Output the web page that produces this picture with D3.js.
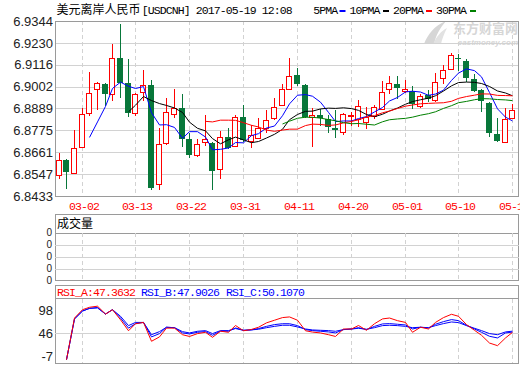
<!DOCTYPE html>
<html>
<head>
<meta charset="utf-8">
<script src="https://cdn.jsdelivr.net/npm/d3@7"></script>
<style>
body { margin: 0; background: #fff; }
svg { display: block; }
.mono { font-family: "Liberation Mono", "DejaVu Sans Mono", monospace; font-size: 11.5px; letter-spacing: -0.9px; }
.ylab { font-family: "Liberation Sans", Arial, sans-serif; font-size: 13px; fill: #222; }
</style>
</head>
<body>
<div id="chart"></div>
<script>
// trading days shown on the chart
var dates = ["02-27","02-28","03-01","03-02","03-03","03-06","03-07","03-08","03-09","03-10",
  "03-13","03-14","03-15","03-16","03-17","03-20","03-21","03-22","03-23","03-24",
  "03-27","03-28","03-29","03-30","03-31","04-03","04-04","04-05","04-06","04-07",
  "04-10","04-11","04-12","04-13","04-14","04-17","04-18","04-19","04-20","04-21",
  "04-24","04-25","04-26","04-27","04-28","05-01","05-02","05-03","05-04","05-05",
  "05-08","05-09","05-10","05-11","05-12","05-15","05-16","05-17","05-18","05-19"];

var opens = [6.8544,6.8620,6.8551,6.8688,6.8865,6.8990,6.9018,6.8966,6.9153,6.9023,
  6.8863,6.8976,6.9011,6.8497,6.8709,6.8860,6.8893,6.8731,6.8646,6.8714,
  6.8710,6.8572,6.8742,6.8693,6.8846,6.8719,6.8736,6.8789,6.8837,6.8907,
  6.8992,6.9061,6.9011,6.8844,6.8856,6.8834,6.8789,6.8766,6.8848,6.8832,
  6.8818,6.8849,6.8887,6.8992,6.9018,6.8979,6.8979,6.8901,6.8959,6.8933,
  6.9045,6.9096,6.9150,6.9136,6.9042,6.8983,6.8919,6.8754,6.8714,6.8840];
var closes = [6.8620,6.8558,6.8683,6.8860,6.8969,6.9023,6.8962,6.9151,6.9023,6.8863,
  6.8964,6.9011,6.8473,6.8703,6.8870,6.8893,6.8728,6.8646,6.8703,6.8730,
  6.8561,6.8740,6.8681,6.8844,6.8723,6.8750,6.8789,6.8828,6.8896,6.8992,
  6.9058,6.9014,6.8844,6.8854,6.8837,6.8792,6.8775,6.8860,6.8853,6.8901,
  6.8844,6.8896,6.8974,6.9023,6.8993,6.8988,6.8914,6.8953,6.8938,6.9026,
  6.9089,6.9167,6.9144,6.9049,6.8979,6.8927,6.8759,6.8719,6.8834,6.8879];
var highs = [6.8658,6.8624,6.8778,6.8893,6.9080,6.9028,6.9021,6.9223,6.9327,6.9148,
  6.8971,6.9089,6.9035,6.8789,6.8945,6.8988,6.8966,6.8762,6.8728,6.8854,
  6.8714,6.8771,6.8789,6.8853,6.8905,6.8802,6.8837,6.8881,6.8941,6.9018,
  6.9153,6.9101,6.9014,6.8889,6.8884,6.8853,6.8879,6.8863,6.8870,6.8931,
  6.8896,6.8907,6.9032,6.9056,6.9056,6.9035,6.9004,6.8966,6.8983,6.9075,
  6.9113,6.9179,6.9174,6.9148,6.9066,6.8990,6.8922,6.8837,6.8893,6.8910];
var lows = [6.8519,6.8467,6.8545,6.8684,6.8848,6.8879,6.8901,6.8927,6.8941,6.8844,
  6.8848,6.8927,6.8462,6.8462,6.8697,6.8837,6.8688,6.8629,6.8636,6.8693,
  6.8462,6.8519,6.8676,6.8688,6.8716,6.8684,6.8728,6.8762,6.8827,6.8900,
  6.8983,6.9006,6.8841,6.8688,6.8797,6.8759,6.8736,6.8750,6.8797,6.8792,
  6.8782,6.8835,6.8882,6.8962,6.8938,6.8971,6.8887,6.8893,6.8924,6.8924,
  6.9014,6.9092,6.9084,6.9028,6.8976,6.8872,6.8740,6.8716,6.8710,6.8837];

var priceTicks = [6.9344, 6.9230, 6.9116, 6.9002, 6.8889, 6.8775, 6.8661, 6.8547, 6.8433];
var dateTicks = ["03-02","03-13","03-22","03-31","04-11","04-20","05-01","05-10","05-19"];

var maPeriods = [5, 10, 20, 30];
var maNames = ["5PMA", "10PMA", "20PMA", "30PMA"];

// RSI values
var rsiA = [null,-15,80,99,104.5,107,89,99,76,51,67,70,27,37,57,57,42,38,44.5,47.5,
  36,50,47.5,63,51,54,59,69,75,81,82.5,75,51,48,46,42,38,55,55,63,
  52,67,78,80,74,70,47.5,59,55,70,81,88.5,84,65,52,40.7,23,17,34.6,47.3632];
var rsiB = [null,-15,78,96,102,104,89,99,80,57,67,70,37,44.5,59,58,46,43.7,47.5,49,
  40.7,50,50,57.4,52,53,56,61,65,67,67,62.7,53.6,51.3,49.8,48.3,46,53.6,55,58,
  53.6,61,66.5,67.3,65.8,64.2,55,59,57.4,65.8,71.8,76.4,74,63.5,55,47.5,38.4,34.6,46,47.9026];
var rsiC = [null,-15,78,96,102,103,89,99,84,62.7,70,70,42,49,59,58,49,46,49.8,51.3,
  44.5,51.3,51.3,56,52,53,54.4,58,61,63.5,63.5,59.7,55,52.8,52,51.3,49.8,53.6,55,56.6,
  54.4,58,62.7,63.5,62.7,61,58,59,58,62.7,67.3,71,69.6,62.7,56.6,51.3,44.5,42,48.3,50.1070];
var rsiTicks = [98, 46, -7];
var volTickLabels = ["0", "0", "0", "0", "0"];

var W = 520, H = 365;
var left = 55, right = 519;
var RED = "#f00", GREEN = "#08773a", GRID = "#d2d2d2", BORDER = "#9a9a9a";

var svg = d3.select("#chart").append("svg")
    .attr("width", W).attr("height", H)
    .style("background", "#fff");

// ---- title + legend
var title = svg.append("g");
title.append("text").attr("x", 56.5).attr("y", 14)
    .style("font-family", "'Noto Sans CJK SC', sans-serif").style("font-size", "12px")
    .text("美元离岸人民币");
title.append("text").attr("class", "mono").attr("x", 141.7).attr("y", 14)
    .text("[USDCNH] 2017-05-19 12:08");

var legendX = [313.3, 349.5, 393, 436];
var dashX = [339.5, 383, 426, 470];
var maColors = ["#0000ff", "#000", "#f00", "#008000"];
maNames.forEach(function (n, k) {
    title.append("text").attr("class", "mono").attr("x", legendX[k]).attr("y", 14).text(n);
    title.append("rect").attr("x", dashX[k]).attr("y", 10).attr("width", 6).attr("height", 2)
        .attr("fill", maColors[k]);
});

// ---- watermark
var wm = svg.append("g").attr("fill", "#d6d6d6");
wm.append("path").attr("d", "M424,44 C428,34 434,26 446,21 C440,28 436,35 434,44 Z");
wm.append("path").attr("d", "M433,44 C437,36 441,31 447,28 C444,34 442,39 441,44 Z").attr("fill", "#e2e2e2");
wm.append("text").attr("x", 518).attr("y", 32.5).attr("text-anchor", "end")
    .style("font-family", "'Noto Sans CJK SC', sans-serif").style("font-size", "13px").style("font-weight", "bold")
    .text("东方财富网");
wm.append("text").attr("x", 518).attr("y", 44.5).attr("text-anchor", "end")
    .style("font-family", "'Liberation Sans', Arial, sans-serif").style("font-size", "8px")
    .style("font-weight", "bold").style("font-style", "italic")
    .text("eastmoney.com");

// ---- scales
var x = d3.scaleBand().domain(dates).range([54.7, 516.1]).paddingInner(0);
var cx = function (d) { return Math.round(x(d) + x.bandwidth() / 2); };

var mainTop = 21, mainBottom = 196;
var y = d3.scaleLinear().domain([6.8433, 6.9344]).range([mainBottom, mainTop]);

var volTop = 232.5, volBottom = 280.5;
var yVol = d3.scaleLinear().domain([0, volTickLabels.length - 1]).range([volTop, volBottom]);

var rsiTop = 298.5, rsiBottom = 363;
var yRsi = d3.scaleLinear().domain([-22.5, 124.5]).range([rsiBottom, rsiTop]);

function vGrid(g, y0, y1) {
    g.selectAll("line.vg").data(dateTicks).enter().append("line")
        .attr("class", "vg")
        .attr("x1", function (d) { return cx(d) + 0.5; })
        .attr("x2", function (d) { return cx(d) + 0.5; })
        .attr("y1", y0).attr("y2", y1)
        .attr("stroke", GRID).attr("stroke-dasharray", "4,3");
}

// ---- main panel
var main = svg.append("g").attr("shape-rendering", "crispEdges");
main.selectAll("line.hg").data(priceTicks).enter().append("line")
    .attr("x1", left).attr("x2", right)
    .attr("y1", function (d) { return Math.round(y(d)) + 0.5; })
    .attr("y2", function (d) { return Math.round(y(d)) + 0.5; })
    .attr("stroke", GRID);
vGrid(main, mainTop, mainBottom);
main.append("rect").attr("x", left + 0.5).attr("y", mainTop + 0.5)
    .attr("width", right - left - 1).attr("height", mainBottom - mainTop)
    .attr("fill", "none").attr("stroke", BORDER);

svg.append("g").selectAll("text").data(priceTicks).enter().append("text")
    .attr("class", "ylab").attr("x", 53).attr("y", function (d) { return y(d); })
    .attr("dy", "0.36em").attr("text-anchor", "end")
    .text(function (d) { return d.toFixed(4); });

svg.append("g").selectAll("text").data(dateTicks).enter().append("text")
    .attr("class", "mono").attr("x", function (d) { return cx(d) + 2; }).attr("y", 210)
    .attr("text-anchor", "middle").attr("fill", RED)
    .text(function (d) { return d; });

var candles = dates.map(function (d, i) {
    return { date: d, o: opens[i], c: closes[i], h: highs[i], l: lows[i] };
});

var cg = svg.append("g").attr("shape-rendering", "crispEdges");
candles.forEach(function (k) {
    var px = cx(k.date);
    var up = k.c >= k.o;
    var col = up ? RED : GREEN;
    var top = Math.round(y(Math.max(k.o, k.c)));
    var bot = Math.round(y(Math.min(k.o, k.c)));
    var hi = Math.round(y(k.h)), lo = Math.round(y(k.l));
    if (up) {
        cg.append("line").attr("x1", px + 0.5).attr("x2", px + 0.5).attr("y1", hi).attr("y2", top)
            .attr("stroke", col);
        cg.append("line").attr("x1", px + 0.5).attr("x2", px + 0.5).attr("y1", bot).attr("y2", lo)
            .attr("stroke", col);
        cg.append("rect").attr("x", px - 2.5).attr("y", top + 0.5)
            .attr("width", 5).attr("height", Math.max(bot - top, 1))
            .attr("fill", "#fff").attr("stroke", col);
    } else {
        cg.append("line").attr("x1", px + 0.5).attr("x2", px + 0.5).attr("y1", hi).attr("y2", lo)
            .attr("stroke", col);
        cg.append("rect").attr("x", px - 3).attr("y", top)
            .attr("width", 6).attr("height", Math.max(bot - top, 1))
            .attr("fill", col);
    }
});

// moving averages of the close
svg.append("clipPath").attr("id", "clipMain").append("rect")
    .attr("x", left).attr("y", mainTop).attr("width", right - left).attr("height", mainBottom - mainTop);

var maLine = d3.line()
    .defined(function (d) { return d.v != null; })
    .x(function (d) { return cx(d.date) + 0.5; })
    .y(function (d) { return y(d.v); });

maPeriods.forEach(function (n, k) {
    var pts = closes.map(function (c, i) {
        return { date: dates[i], v: i < n - 1 ? null : d3.mean(closes.slice(i - n + 1, i + 1)) };
    });
    svg.append("path").datum(pts)
        .attr("clip-path", "url(#clipMain)")
        .attr("fill", "none").attr("stroke", maColors[k]).attr("stroke-width", 1)
        .attr("d", maLine);
});

// ---- volume panel (no volume data for this instrument)
var vol = svg.append("g").attr("shape-rendering", "crispEdges");
vol.append("rect").attr("x", left + 0.5).attr("y", 214.5).attr("width", right - left - 1).attr("height", volBottom - 214.5)
    .attr("fill", "none").attr("stroke", BORDER);
vol.selectAll("line.hg").data(volTickLabels.slice(0, -1)).enter().append("line")
    .attr("x1", left).attr("x2", right)
    .attr("y1", function (d, i) { return Math.round(yVol(i)) + 0.5; })
    .attr("y2", function (d, i) { return Math.round(yVol(i)) + 0.5; })
    .attr("stroke", function (d, i) { return i === 0 ? BORDER : GRID; });
vGrid(vol, volTop, volBottom);
svg.append("text").attr("x", 57).attr("y", 227.5)
    .style("font-family", "'Noto Sans CJK SC', sans-serif").style("font-size", "12px")
    .text("成交量");
svg.append("g").selectAll("text").data(volTickLabels).enter().append("text")
    .attr("class", "ylab").style("font-size", "10px").attr("x", 52).attr("y", function (d, i) { return yVol(i); })
    .attr("dy", "0.36em").attr("text-anchor", "end").text(function (d) { return d; });

// ---- RSI panel
var rsi = svg.append("g").attr("shape-rendering", "crispEdges");
rsi.append("rect").attr("x", left + 0.5).attr("y", 285.5).attr("width", right - left - 1).attr("height", rsiBottom - 285.5)
    .attr("fill", "none").attr("stroke", BORDER);
rsi.append("line").attr("x1", left).attr("x2", right).attr("y1", rsiTop).attr("y2", rsiTop).attr("stroke", BORDER);
rsi.append("line").attr("x1", left).attr("x2", right)
    .attr("y1", Math.round(yRsi(46)) + 0.5).attr("y2", Math.round(yRsi(46)) + 0.5).attr("stroke", GRID);
vGrid(rsi, rsiTop, rsiBottom);

svg.append("g").selectAll("text").data(rsiTicks).enter().append("text")
    .attr("class", "ylab").attr("x", 53).attr("y", function (d) { return yRsi(d); })
    .attr("dy", "0.36em").attr("text-anchor", "end").text(function (d) { return d; });

var rsiSeries = [
    { name: "RSI_A", values: rsiA, color: "#f00", x: 57 },
    { name: "RSI_B", values: rsiB, color: "#00f", x: 141 },
    { name: "RSI_C", values: rsiC, color: "#00f", x: 226 }
];
rsiSeries.forEach(function (s) {
    svg.append("text").attr("class", "mono").attr("x", s.x).attr("y", 295.5).attr("fill", s.color)
        .text(s.name + ":" + s.values[s.values.length - 1].toFixed(4));
});

svg.append("clipPath").attr("id", "clipRsi").append("rect")
    .attr("x", left).attr("y", rsiTop).attr("width", right - left).attr("height", rsiBottom - rsiTop);

var rsiLine = d3.line()
    .defined(function (d) { return d != null; })
    .x(function (d, i) { return cx(dates[i]) + 0.5; })
    .y(function (d) { return yRsi(d); });

rsiSeries.slice().reverse().forEach(function (s) {
    svg.append("path").datum(s.values)
        .attr("clip-path", "url(#clipRsi)")
        .attr("fill", "none").attr("stroke", s.color).attr("stroke-width", 1)
        .attr("d", rsiLine);
});
</script>
</body>
</html>
